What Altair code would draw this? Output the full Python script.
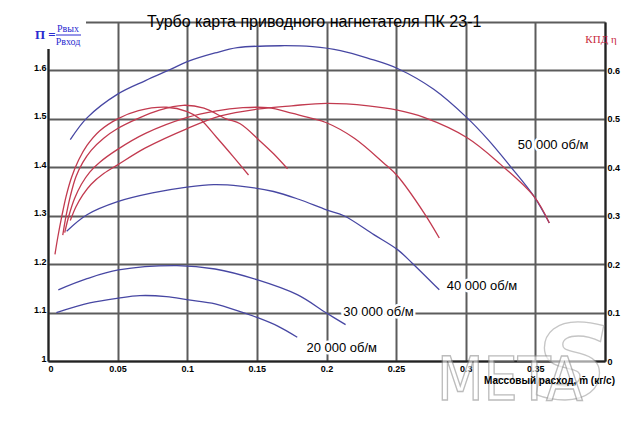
import altair as alt
import pandas as pd

# ---------------- data ----------------
TITLE = "Турбо карта приводного нагнетателя ПК 23-1"
X_TITLE = "Массовый расход, m\u0304 (кг/с)"

speeds = ["20 000 об/м", "30 000 об/м", "40 000 об/м", "50 000 об/м"]

# pressure ratio curves (blue), left axis
pi20_x = [0.006, 0.03, 0.0506, 0.066, 0.085, 0.101, 0.12, 0.138, 0.150, 0.165, 0.179]
pi20_y = [1.100, 1.120, 1.130, 1.135, 1.133, 1.126, 1.118, 1.102, 1.090, 1.072, 1.049]

pi30_x = [0.0074, 0.028, 0.0506, 0.0926, 0.12, 0.150, 0.179, 0.2, 0.2137]
pi30_y = [1.147, 1.170, 1.188, 1.197, 1.190, 1.168, 1.137, 1.099, 1.075]

pi40_x = [0.0134, 0.028, 0.05, 0.075, 0.0998, 0.119, 0.138, 0.162, 0.18, 0.2, 0.2125, 0.234, 0.251, 0.2616, 0.281]
pi40_y = [1.268, 1.302, 1.329, 1.347, 1.359, 1.364, 1.361, 1.350, 1.334, 1.312, 1.300, 1.261, 1.230, 1.202, 1.147]

pi50_x = [0.016, 0.028, 0.05, 0.07, 0.088, 0.10, 0.12, 0.136, 0.167, 0.19, 0.21, 0.23, 0.251, 0.277, 0.301, 0.316, 0.332, 0.349, 0.36]
pi50_y = [1.457, 1.502, 1.551, 1.579, 1.602, 1.618, 1.636, 1.647, 1.651, 1.649, 1.641, 1.625, 1.604, 1.561, 1.502, 1.457, 1.402, 1.340, 1.285]

# efficiency curves (red), right axis
eta20_x = [0.005, 0.007, 0.010, 0.013, 0.017, 0.022, 0.028, 0.037, 0.05, 0.065, 0.085, 0.10, 0.109, 0.121, 0.133, 0.144]
eta20_y = [0.22, 0.255, 0.30, 0.34, 0.38, 0.415, 0.445, 0.475, 0.50, 0.517, 0.524, 0.515, 0.50, 0.462, 0.422, 0.384]

eta30_x = [0.0106, 0.013, 0.016, 0.02, 0.025, 0.031, 0.04, 0.05, 0.064, 0.08, 0.097, 0.112, 0.128, 0.138, 0.152, 0.162, 0.172]
eta30_y = [0.26, 0.30, 0.34, 0.38, 0.41, 0.435, 0.46, 0.48, 0.50, 0.518, 0.528, 0.522, 0.50, 0.490, 0.455, 0.428, 0.397]

eta40_x = [0.012, 0.015, 0.019, 0.024, 0.03, 0.037, 0.05, 0.07, 0.1, 0.12, 0.14, 0.158, 0.175, 0.188, 0.2, 0.22, 0.241, 0.251, 0.27, 0.281]
eta40_y = [0.265, 0.30, 0.335, 0.365, 0.39, 0.41, 0.437, 0.47, 0.503, 0.516, 0.523, 0.523, 0.512, 0.502, 0.492, 0.46, 0.409, 0.382, 0.306, 0.254]

eta50_x = [0.016, 0.02, 0.025, 0.031, 0.04, 0.05, 0.07, 0.1, 0.124, 0.15, 0.175, 0.2, 0.23, 0.251, 0.27, 0.301, 0.325, 0.349, 0.36]
eta50_y = [0.29, 0.318, 0.343, 0.365, 0.387, 0.405, 0.44, 0.48, 0.506, 0.52, 0.527, 0.532, 0.527, 0.518, 0.503, 0.461, 0.406, 0.34, 0.285]

# speed labels (data coordinates on the pressure-ratio scale)
label_x = [0.1856, 0.212, 0.2863, 0.3374]
label_pi = [1.026, 1.101, 1.154, 1.447]

x_ticks = [0, 0.05, 0.1, 0.15, 0.2, 0.25, 0.3, 0.35, 0.4]
pi_ticks = [1, 1.1, 1.2, 1.3, 1.4, 1.5, 1.6, 1.7]
eta_ticks = [0, 0.1, 0.2, 0.3, 0.4, 0.5, 0.6]

# ---------------- tables ----------------
def long(xs, ys, name, ycol):
    return pd.DataFrame({"x": xs, ycol: ys, "series": name})

df_pi = pd.concat([long(pi20_x, pi20_y, speeds[0], "pi"), long(pi30_x, pi30_y, speeds[1], "pi"),
                   long(pi40_x, pi40_y, speeds[2], "pi"), long(pi50_x, pi50_y, speeds[3], "pi")])
df_eta = pd.concat([long(eta20_x, eta20_y, speeds[0], "eta"), long(eta30_x, eta30_y, speeds[1], "eta"),
                    long(eta40_x, eta40_y, speeds[2], "eta"), long(eta50_x, eta50_y, speeds[3], "eta")])
df_lab = pd.DataFrame({"x": label_x, "pi": label_pi, "t": speeds})

BLUE = "#4747a3"
RED = "#c23a4f"
GRID = "#5c5c5c"
FONT = "Liberation Sans"
SERIF = "Liberation Serif"

xscale = alt.Scale(domain=[0, 0.4], nice=False, zero=False)
piscale = alt.Scale(domain=[1, 1.7], nice=False, zero=False)
etascale = alt.Scale(domain=[0, 0.7], nice=False, zero=False)

common_axis = dict(ticks=False, labelFont=FONT, labelFontSize=9, labelFontWeight="bold",
                   labelColor="black", domainColor="#222", domainWidth=2, title=None)

x_axis = alt.Axis(values=x_ticks, grid=True, gridColor=GRID, gridWidth=2, gridOpacity=1,
                  labelExpr="datum.value > 0.375 ? '' : format(datum.value, '~g')",
                  labelPadding=3, **common_axis)
pi_axis = alt.Axis(values=pi_ticks, grid=True, gridColor=GRID, gridWidth=2, gridOpacity=1,
                   labelExpr="datum.value > 1.65 ? '' : format(datum.value, '~g')",
                   labelBaseline="alphabetic", labelPadding=2, **common_axis)
eta_axis = alt.Axis(values=eta_ticks, grid=False, orient="right", labelBaseline="middle",
                    labelExpr="format(datum.value, '~g')", labelPadding=2, **common_axis)

blue = alt.Chart(df_pi).mark_line(color=BLUE, strokeWidth=1.3, interpolate="catmull-rom").encode(
    x=alt.X("x:Q", scale=xscale, axis=x_axis),
    y=alt.Y("pi:Q", scale=piscale, axis=pi_axis),
    detail="series:N",
)
red = alt.Chart(df_eta).mark_line(color=RED, strokeWidth=1.3, interpolate="catmull-rom").encode(
    x=alt.X("x:Q", scale=xscale),
    y=alt.Y("eta:Q", scale=etascale, axis=eta_axis),
    detail="series:N",
)

lab_enc = dict(x=alt.X("x:Q", scale=xscale), y=alt.Y("pi:Q", scale=piscale, axis=None), text="t:N")
halo = alt.Chart(df_lab).mark_text(align="left", baseline="middle", font=FONT, fontSize=13,
                                   color="white", stroke="white", strokeWidth=5).encode(**lab_enc)
labels = alt.Chart(df_lab).mark_text(align="left", baseline="middle", font=FONT, fontSize=13,
                                     color="black").encode(**lab_enc)


def note(text, x, y, **kw):
    return alt.Chart(pd.DataFrame({"t": [text]})).mark_text(**kw).encode(
        x=alt.value(x), y=alt.value(y), text="t:N")


one = pd.DataFrame({"a": [0]})
mask = alt.Chart(one).mark_rect(color="white").encode(
    x=alt.value(-16), x2=alt.value(38), y=alt.value(-3), y2=alt.value(27))
frac = alt.Chart(one).mark_rule(color="#2a2ad0", strokeWidth=1).encode(
    x=alt.value(8), x2=alt.value(33), y=alt.value(13))

title = note(TITLE, 99, 5, align="left", baseline="alphabetic", font=FONT, fontSize=16, color="black")
pi_sym = note("П =", -13, 13, align="left", baseline="middle", font=SERIF, fontSize=13,
              fontWeight="bold", color="#2a2ad0")
num = note("Pвых", 20, 7, align="center", baseline="middle", font=SERIF, fontSize=10, color="#2a2ad0")
den = note("Pвход", 20, 20, align="center", baseline="middle", font=SERIF, fontSize=10, color="#2a2ad0")
kpd = note("КПД η", 553, 18, align="center", baseline="middle", font=SERIF, fontSize=11, color="#c8283c")

wm_s = note("S", 524, 346, align="center", baseline="middle", font="DejaVu Sans", fontSize=104,
            fontWeight="bold", fontStyle="italic", color="white", opacity=0.6,
            stroke="#a0a0a0", strokeWidth=1.3)
wm_meta = note("META", 389, 378, align="left", baseline="alphabetic",
               font="Liberation Sans Narrow, DejaVu Sans Condensed, Liberation Sans", fontSize=60,
               color="white", opacity=0.6, stroke="#909090", strokeWidth=1.3)

xtitle = note(X_TITLE, 567, 359, align="right", baseline="middle", font=FONT, fontSize=10,
              fontWeight="bold", color="black")

chart = alt.layer(
    blue, red, halo, labels, mask, frac, title, pi_sym, num, den, kpd, wm_s, wm_meta, xtitle
).resolve_scale(y="independent").properties(
    width=557, height=339,
    autosize=alt.AutoSizeParams(type="none"),
    padding={"left": 40, "top": 14, "right": 25, "bottom": 62},
).configure_view(stroke=None)

chart.save("out.html", embed_options={"renderer": "svg", "actions": False})
